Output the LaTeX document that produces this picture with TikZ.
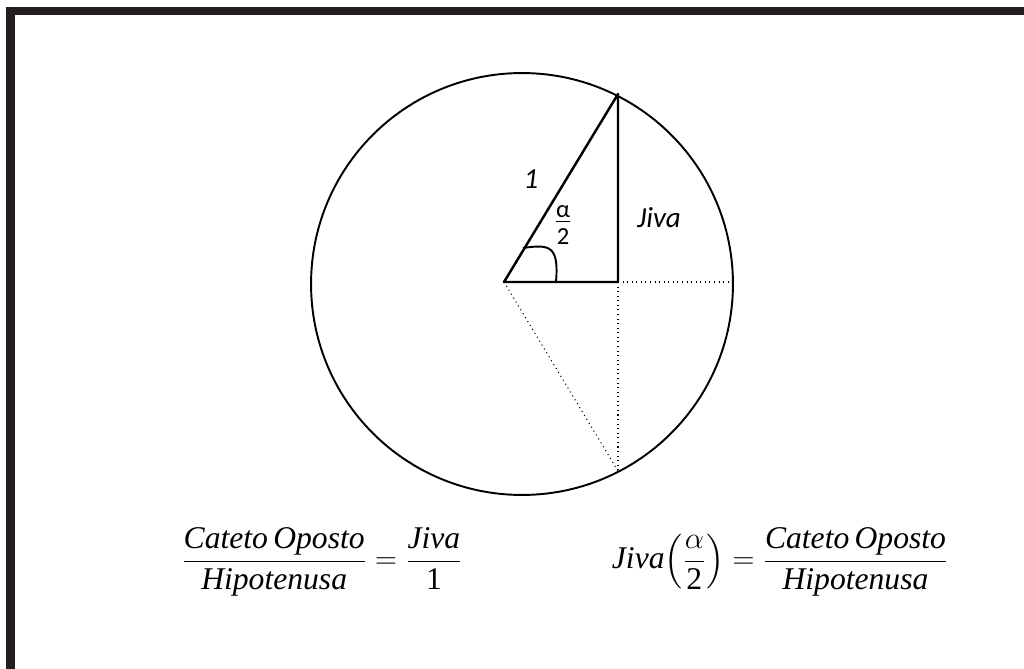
\documentclass[tikz,border=0pt]{standalone}
\usepackage{amsmath}
\usepackage{fontspec}
\setmainfont{Liberation Serif}
\newfontfamily\tnr{Liberation Serif}
\newfontfamily\calib{Carlito}
\definecolor{framec}{HTML}{231F20}
\newcommand{\tx}[1]{\text{\tnr\itshape #1}}
\newcommand{\tu}[1]{\text{\tnr\upshape #1}}
\begin{document}
\begin{tikzpicture}[x=0.02cm,y=-0.02cm,
  framebar/.style={fill=framec,draw=none},
  tri/.style={line width=1.4pt,line join=round},
  guide/.style={dotted,line width=0.6pt},
  lbl/.style={font=\calib\fontsize{16.5}{18}\selectfont\itshape,inner sep=0pt},
  formula/.style={font=\tnr\fontsize{18}{22}\selectfont,inner sep=0pt}]
\useasboundingbox (0,0) rectangle (1024,669);
% frame
\fill[framebar] (6,7) rectangle (1024,15);
\fill[framebar] (6,7) rectangle (15,669);
% points
\coordinate (C) at (522,284);
\coordinate (O) at (504,282);
\coordinate (T) at (618,94);
\coordinate (R) at (618,282);
\coordinate (E) at (733,282);
\coordinate (B) at (618,471);
\coordinate (A1) at (523,248);
\coordinate (A2) at (556,282);
% circle
\draw[line width=1.1pt] (C) circle[radius=4.22cm];
% guides
\draw[guide] (R) -- (E);
\draw[guide] (O) -- (B);
\draw[guide] (R) -- (B);
% triangle
\draw[tri] (O) -- (T) -- (R) -- cycle;
% angle
\draw[line width=1.1pt] (A1) .. controls (550,244) and (559,246) .. (A2);
% labels
\node[lbl] (one) at (531,179) {1};
\node[lbl] (jiva) at (659,218) {Jiva};
\node[inner sep=0pt,font=\calib\fontsize{14}{15}\selectfont] (alpha) at (563,214) {\underline{α}};
\node[inner sep=0pt,font=\calib\fontsize{14}{15}\selectfont] (two) at (563,237) {2};
% formulas
\node[formula] (f1) at (322,562)
  {$\dfrac{\tx{Cateto\,Oposto}}{\tx{Hipotenusa}} = \dfrac{\tx{Jiva}}{\tu{1}}$};
\node[formula] (f2) at (780,562)
  {$\tx{Jiva}\!\left(\dfrac{\alpha}{\tu{2}}\right) = \dfrac{\tx{Cateto\,Oposto}}{\tx{Hipotenusa}}$};
\end{tikzpicture}
\end{document}
